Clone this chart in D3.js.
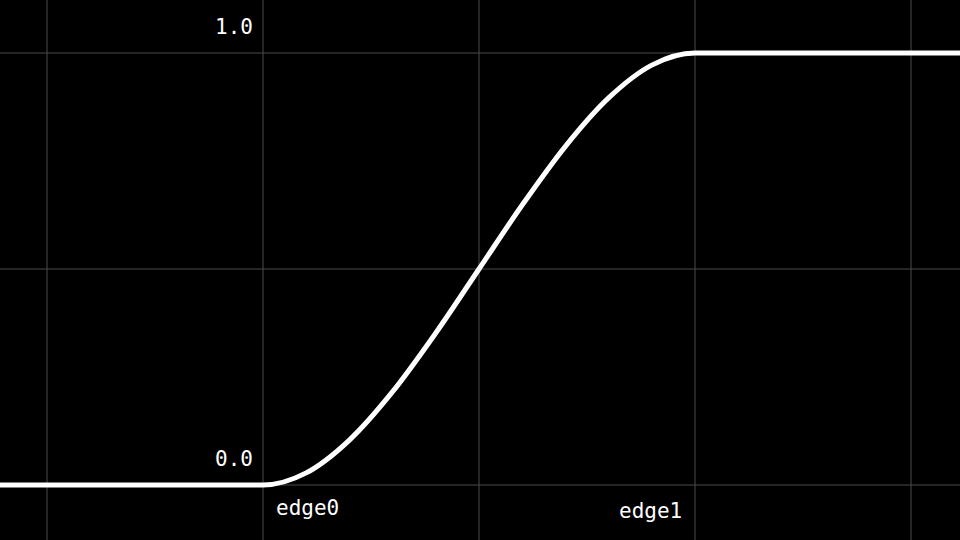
<!DOCTYPE html>
<html><head><meta charset="utf-8">
<script src="https://cdn.jsdelivr.net/npm/d3@7"></script>
<style>html,body{margin:0;background:#000;overflow:hidden}</style>
</head><body><svg id="c" width="960" height="540"></svg>
<script>
const xs = [-0.61, 0, 0.1, 0.2, 0.3, 0.4, 0.5, 0.6, 0.7, 0.8, 0.9, 1, 1.62];
const ys = [0, 0, 0.028, 0.104, 0.216, 0.352, 0.5, 0.648, 0.784, 0.896, 0.972, 1, 1];
const gridX = [-0.5, 0, 0.5, 1, 1.5];
const gridY = [0, 0.5, 1];
const yLabels = [{v:0, t:"0.0"}, {v:1, t:"1.0"}];
const xLabels = [{v:0, t:"edge0"}, {v:1, t:"edge1"}];

const svg = d3.select("#c");
const x = d3.scaleLinear().domain([0,1]).range([263,695]);
const y = d3.scaleLinear().domain([0,1]).range([485,53]);
const font = "'DejaVu Sans Mono', monospace";

svg.append("g").selectAll("line").data(gridX).join("line")
  .attr("x1",d=>x(d)).attr("x2",d=>x(d)).attr("y1",0).attr("y2",540)
  .attr("stroke","#4a4a4a").attr("stroke-width",1);
svg.append("g").selectAll("line").data(gridY).join("line")
  .attr("y1",d=>y(d)).attr("y2",d=>y(d)).attr("x1",0).attr("x2",960)
  .attr("stroke","#4a4a4a").attr("stroke-width",1);

const pts = xs.map((v,i)=>[v,ys[i]]);
svg.append("path").datum(pts)
  .attr("d", d3.line().x(d=>x(d[0])).y(d=>y(d[1])).curve(d3.curveMonotoneX))
  .attr("fill","none").attr("stroke","#fff").attr("stroke-width",5);

svg.append("g").selectAll("text").data(yLabels).join("text")
  .attr("x",x(0)-10).attr("y",d=>y(d.v)-19).attr("text-anchor","end")
  .attr("fill","#fff").attr("font-family",font).attr("font-size",21).text(d=>d.t);
svg.append("g").selectAll("text").data(xLabels).join("text")
  .attr("x",d=>x(d.v)-(d.v===1?76:-13)).attr("y",d=>d.v===1?518:515)
  .attr("fill","#fff").attr("font-family",font).attr("font-size",21).text(d=>d.t);
</script></body></html>
